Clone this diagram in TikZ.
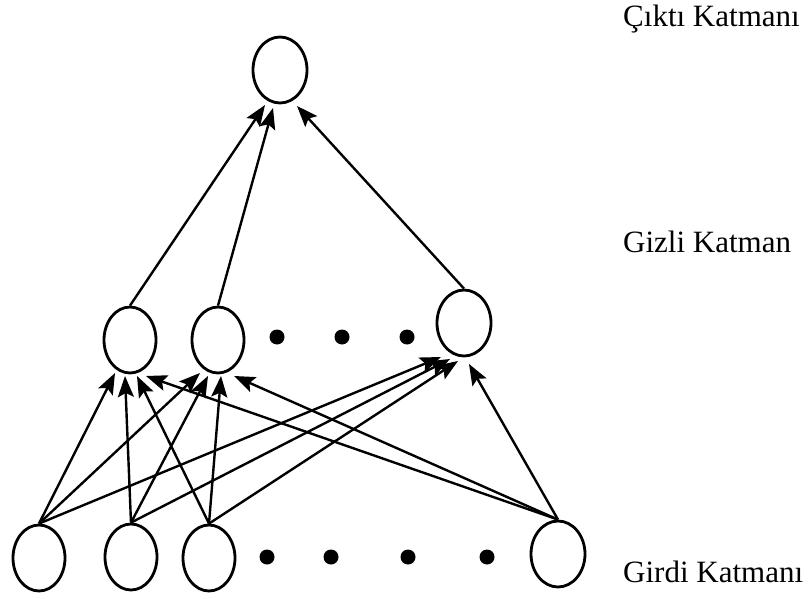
\documentclass[tikz,border=0pt]{standalone}
\usepackage{fontspec}
\setmainfont{Liberation Serif}
\usetikzlibrary{shapes.geometric,arrows.meta,calc}
\begin{document}
\begin{tikzpicture}[x=1pt,y=-1pt,
  neuron/.style={ellipse,draw,line width=2.8pt,minimum width=#1,minimum height=66pt,inner sep=0pt},
  neuron/.default=52pt,
  dotnode/.style={circle,fill=black,minimum size=15pt,inner sep=0pt},
  arr/.style={line width=2.4pt,-{Stealth[length=21pt,width=16pt,inset=4pt]}},
  lbl/.style={anchor=base west,inner sep=0pt,font=\fontsize{31}{36}\selectfont}]
\useasboundingbox (0,0) rectangle (811,599);
% output layer
\node[neuron=54pt] (o) at (280,70) {};
% hidden layer
\node[neuron] (h1) at (130,340) {};
\node[neuron] (h2) at (218,340) {};
\node[neuron=54pt] (h3) at (464,323) {};
\node[dotnode] (hd1) at (277,337) {};
\node[dotnode] (hd2) at (342,337) {};
\node[dotnode] (hd3) at (407,337) {};
% input layer
\node[neuron] (i1) at (39,558) {};
\node[neuron] (i2) at (131,557) {};
\node[neuron] (i3) at (209,558) {};
\node[neuron=54pt] (i4) at (558,554) {};
\node[dotnode] (id1) at (267,557) {};
\node[dotnode] (id2) at (331,557) {};
\node[dotnode] (id3) at (408,557) {};
\node[dotnode] (id4) at (487,557) {};
% labels
\node[lbl] (lo) at (623,27) {Çıktı Katmanı};
\node[lbl] (lh) at (623,252) {Gizli Katman};
\node[lbl] (li) at (623,582) {Girdi Katmanı};
% input -> hidden 1
\draw[arr] (i1.north) -- ($(h1)+(-15,33)$);
\draw[arr] (i2.north) -- ($(h1)+(-5,36)$);
\draw[arr] (i3.north) -- ($(h1)+(7,36)$);
\draw[arr] (i4.north) -- ($(h1)+(16,36)$);
% input -> hidden 2
\draw[arr] (i1.north) -- ($(h2)+(-18,33)$);
\draw[arr] (i2.north) -- ($(h2)+(-10,36)$);
\draw[arr] (i3.north) -- ($(h2)+(3,36)$);
\draw[arr] (i4.north) -- ($(h2)+(16,36)$);
% input -> hidden 3
\draw[arr] (i1.north) -- ($(h3)+(-23,34)$);
\draw[arr] (i2.north) -- ($(h3)+(-14,36)$);
\draw[arr] (i3.north) -- ($(h3)+(-6,38)$);
\draw[arr] (i4.north) -- ($(h3)+(5,41)$);
% hidden -> output
\draw[arr] (h1.north) -- ($(o)+(-15,35)$);
\draw[arr] (h2.north) -- ($(o)+(-7,38)$);
\draw[arr] (h3.north) -- ($(o)+(17,36)$);
\end{tikzpicture}
\end{document}
